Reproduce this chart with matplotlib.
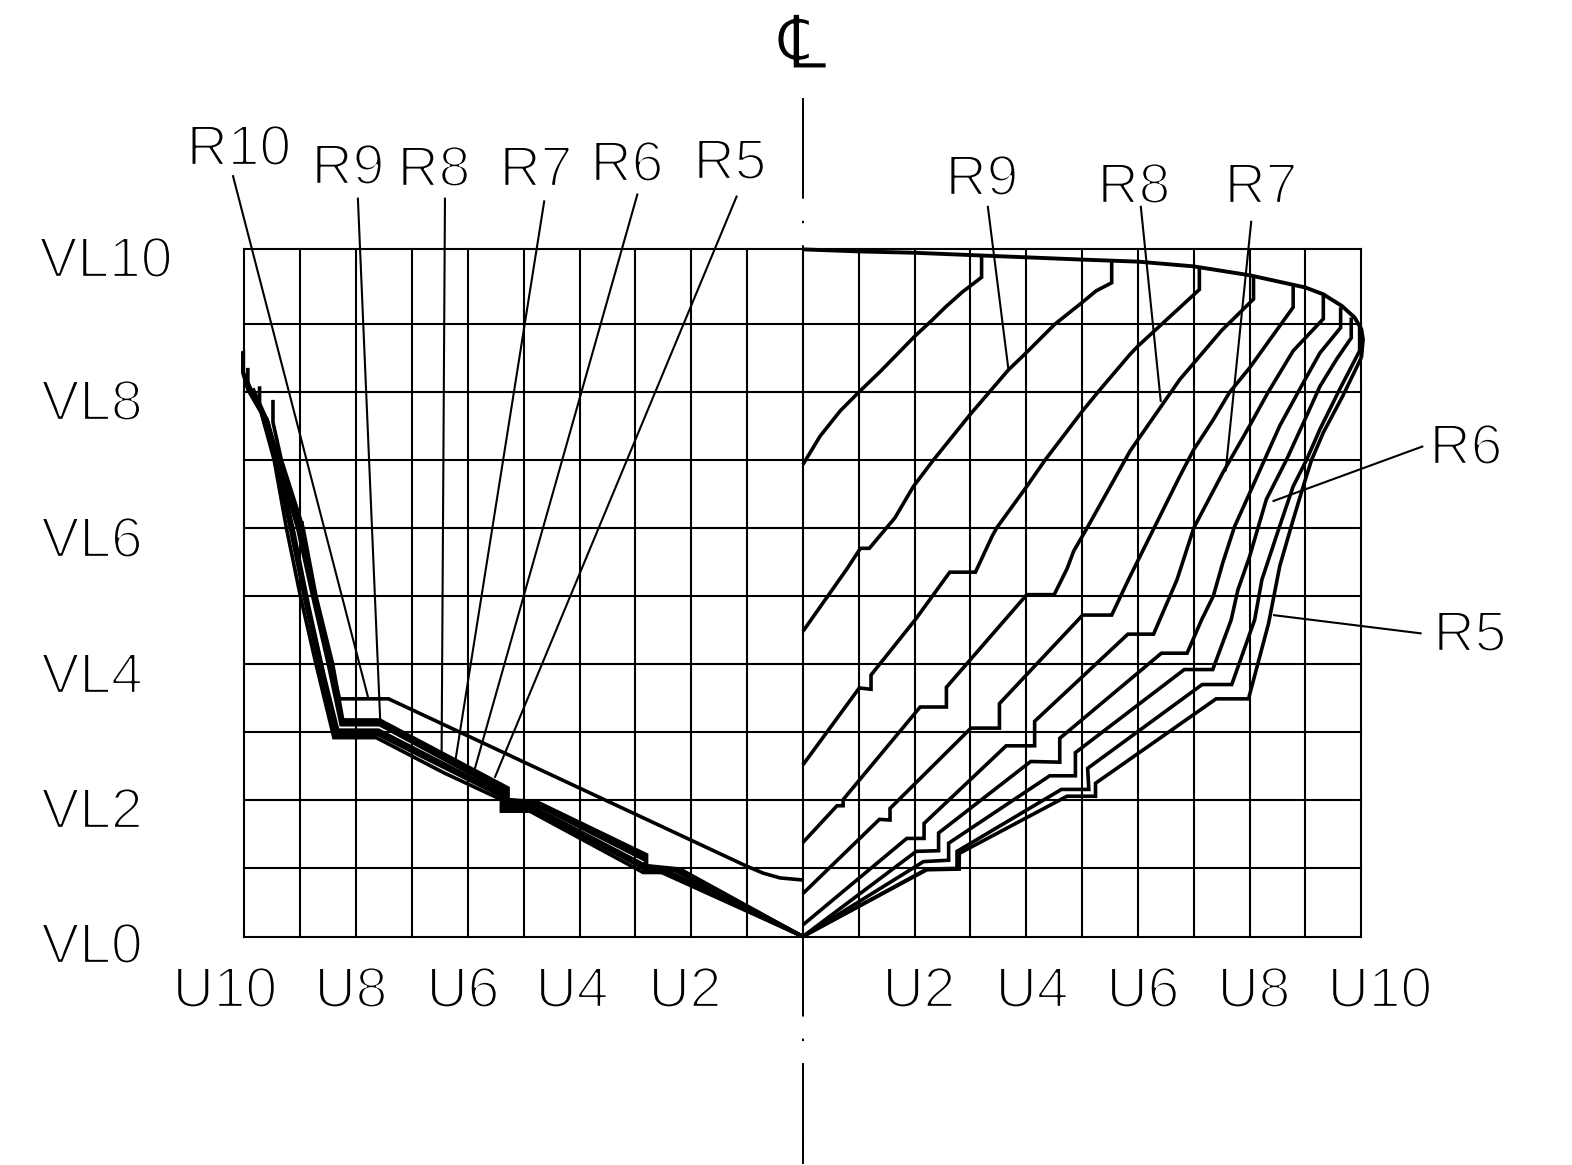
"""Body plan of a hull: stations on both sides of the centre line, with R labels."""

import matplotlib

matplotlib.use("Agg")
import matplotlib.patheffects as path_effects
import matplotlib.pyplot as plt

plt.rcParams["font.family"] = ["Liberation Sans", "DejaVu Sans"]
plt.rcParams["lines.scale_dashes"] = False

# waterlines and buttocks, in station units (the top waterline sits a bit above 10)
GRID_U = list(range(-10, 11))
GRID_V = [0, 1, 2, 3, 4, 5, 6, 7, 8, 9, 10.09]

SHEER_U = [0, 1.0, 2.0, 3.2, 5.0, 6.0, 7.0, 8.0, 9.0, 9.32, 9.65, 9.88, 10.0, 10.03, 10.0]
SHEER_V = [10.09, 10.06, 10.04, 10.0, 9.94, 9.91, 9.84, 9.71, 9.53, 9.43, 9.26, 9.09, 8.92, 8.77, 8.5]

# right side, stations from the centre outwards
R1_U = [0, 0.31, 0.67, 1.01, 1.39, 1.7, 2.01, 2.3, 2.55, 2.85, 3.2, 3.2]
R1_V = [6.93, 7.35, 7.72, 8.0, 8.3, 8.56, 8.82, 9.04, 9.24, 9.46, 9.68, 10.02]
R2_U = [0, 0.79, 1.03, 1.19, 1.65, 1.98, 2.34, 3.0, 3.68, 4.01, 4.51, 5.0, 5.25, 5.53, 5.53]
R2_V = [4.48, 5.4, 5.7, 5.7, 6.15, 6.61, 7.0, 7.67, 8.32, 8.58, 8.99, 9.31, 9.48, 9.6, 9.92]
R3_U = [0, 1.01, 1.22, 1.22, 2.01, 2.63, 3.09, 3.39, 3.47, 4.01, 4.34, 5.01, 5.3, 5.86, 6.0, 7.1, 7.1]
R3_V = [2.52, 3.65, 3.63, 3.84, 4.65, 5.35, 5.35, 5.88, 6.0, 6.61, 7.0, 7.72, 8.01, 8.55, 8.67, 9.5, 9.82]
R4_U = [0, 0.61, 0.72, 0.72, 2.1, 2.57, 2.57, 4.01, 4.5, 4.73, 4.85, 5.09, 5.86, 6.75, 7.5, 8.07, 8.07]
R4_V = [1.38, 1.92, 1.92, 2.01, 3.37, 3.37, 3.66, 5.02, 5.02, 5.4, 5.66, 6.0, 7.13, 8.18, 8.9, 9.36, 9.68]
R5_U = [0, 1.37, 1.56, 1.56, 3.01, 3.52, 3.52, 5.01, 5.53, 5.83, 6.75, 7.0, 7.35, 7.64, 8.0, 8.78, 8.78]
R5_V = [0.63, 1.72, 1.71, 1.88, 3.06, 3.06, 3.42, 4.72, 4.72, 5.24, 6.76, 7.15, 7.59, 7.99, 8.35, 9.24, 9.55]
R6_U = [0, 1.86, 2.17, 2.17, 3.64, 4.15, 4.15, 5.82, 6.28, 6.7, 7.0, 7.52, 8.0, 8.33, 8.78, 9.32, 9.32]
R6_V = [0.17, 1.44, 1.44, 1.66, 2.8, 2.8, 3.16, 4.44, 4.44, 5.24, 6.0, 6.81, 7.5, 7.99, 8.6, 9.07, 9.41]
R7_U = [0, 2.03, 2.43, 2.43, 4.08, 4.6, 4.6, 6.42, 6.88, 7.14, 7.35, 7.52, 7.73, 8.0, 8.54, 8.96, 9.26, 9.63, 9.63]
R7_V = [0, 1.25, 1.26, 1.52, 2.57, 2.56, 2.91, 4.16, 4.16, 4.65, 5.0, 5.49, 6.02, 6.51, 7.5, 8.13, 8.57, 8.94, 9.24]
R8_U = [0, 2.16, 2.61, 2.61, 4.42, 4.88, 4.88, 6.83, 7.34, 7.67, 7.79, 8.0, 8.3, 8.66, 8.99, 9.26, 9.56, 9.82, 9.82]
R8_V = [0, 1.1, 1.12, 1.37, 2.36, 2.36, 2.7, 3.92, 3.92, 4.65, 5.09, 5.58, 6.42, 7.0, 7.59, 8.08, 8.48, 8.79, 9.09]
R9_U = [0, 2.22, 2.76, 2.76, 4.63, 5.12, 5.1, 7.15, 7.68, 8.09, 8.22, 8.54, 8.78, 9.02, 9.26, 9.61, 9.97, 9.97]
R9_V = [0, 0.99, 1.0, 1.25, 2.16, 2.16, 2.47, 3.7, 3.7, 4.65, 5.24, 6.03, 6.61, 7.0, 7.45, 8.03, 8.6, 9.0]
R10_U = [0, 2.22, 2.8, 2.8, 4.73, 5.24, 5.24, 7.4, 7.98, 8.34, 8.44, 8.54, 8.78, 8.96, 9.11, 9.32, 9.67, 10.0]
R10_V = [0, 0.98, 0.99, 1.22, 2.06, 2.06, 2.25, 3.49, 3.49, 4.6, 5.02, 5.44, 6.12, 6.61, 7.0, 7.4, 7.94, 8.5]

# left side, the single upper section and then the tight bundle
L1_U = [-8.97, -8.97, -8.3, -7.42, -1.0, -0.71, -0.41, 0]
L1_V = [6.1, 5.85, 3.49, 3.49, 1.03, 0.93, 0.86, 0.83]
L2_U = [-9.49, -9.49, -9.34, -8.95, -8.72, -8.42, -8.24, -7.58, -5.28, -5.28, -4.77, -2.8, -2.8, -2.2, 0]
L2_V = [7.88, 7.55, 7.0, 6.0, 5.0, 4.0, 3.18, 3.18, 2.18, 2.01, 1.98, 1.2, 1.04, 0.99, 0]
L3_U = [-9.6, -9.38, -9.0, -8.75, -8.46, -8.26, -7.58, -5.3, -5.3, -4.8, -2.81, -2.81, -2.25, 0]
L3_V = [7.6, 7.0, 6.0, 5.0, 4.0, 3.14, 3.14, 2.14, 1.99, 1.96, 1.16, 1.02, 0.98, 0]
L4_U = [-9.73, -9.73, -9.42, -9.05, -8.78, -8.5, -8.27, -7.58, -5.31, -5.31, -4.82, -2.82, -2.82, -2.3, 0]
L4_V = [8.08, 7.8, 7.0, 6.0, 5.0, 4.0, 3.11, 3.11, 2.11, 1.97, 1.95, 1.12, 1.0, 0.97, 0]
L5_U = [-9.94, -9.94, -9.6, -9.42, -9.12, -8.85, -8.58, -8.33, -7.6, -5.34, -5.34, -4.85, -2.84, -2.84, -2.4, 0]
L5_V = [8.35, 8.05, 7.6, 7.0, 5.95, 4.85, 3.85, 3.03, 3.03, 2.08, 1.93, 1.91, 1.05, 0.97, 0.95, 0]
L6_U = [-9.85, -9.58, -9.44, -9.15, -8.88, -8.6, -8.35, -7.61, -5.36, -5.36, -4.86, -2.85, -2.85, -2.42, 0]
L6_V = [8.05, 7.55, 7.0, 6.0, 4.9, 3.9, 3.0, 3.0, 2.06, 1.9, 1.89, 1.02, 0.96, 0.94, 0]
L7_U = [-10.02, -10.02, -9.7, -9.45, -9.18, -8.92, -8.65, -8.37, -7.62, -5.37, -5.37, -4.87, -2.85, -2.85, -2.45, 0]
L7_V = [8.6, 8.28, 7.7, 7.0, 6.0, 4.95, 3.95, 2.97, 2.97, 2.05, 1.88, 1.87, 1.0, 0.95, 0.94, 0]
L8_U = [-10.03, -10.03, -9.94, -9.7, -9.47, -9.25, -9.0, -8.72, -8.4, -7.64, -6.42, -5.4, -5.4, -4.89, -2.86, -2.53, 0]
L8_V = [8.59, 8.28, 8.03, 7.69, 7.0, 6.0, 5.0, 4.0, 2.92, 2.92, 2.4, 2.01, 1.84, 1.84, 0.94, 0.94, 0]

STATIONS = [
    (R1_U, R1_V), (R2_U, R2_V), (R3_U, R3_V), (R4_U, R4_V), (R5_U, R5_V),
    (R6_U, R6_V), (R7_U, R7_V), (R8_U, R8_V), (R9_U, R9_V), (R10_U, R10_V),
    (L1_U, L1_V), (L2_U, L2_V), (L3_U, L3_V), (L4_U, L4_V), (L5_U, L5_V),
    (L6_U, L6_V), (L7_U, L7_V), (L8_U, L8_V),
]

# leader lines: label end then station end
LEADER_U = [
    (-10.21, -7.78), (-7.97, -7.57), (-6.41, -6.47), (-4.63, -6.22), (-2.96, -5.88), (-1.18, -5.52),
    (3.31, 3.68), (6.05, 6.41), (8.03, 7.57), (11.11, 8.41), (11.08, 8.42),
]
LEADER_V = [
    (11.18, 3.49), (10.85, 3.18), (10.85, 2.7), (10.81, 2.6), (10.91, 2.45), (10.88, 2.33),
    (10.73, 8.33), (10.73, 7.85), (10.51, 6.83), (7.2, 6.39), (4.45, 4.72),
]

WATERLINE_LABELS = ["VL10", "VL8", "VL6", "VL4", "VL2", "VL0"]
STATION_LABELS = ["U10", "U8", "U6", "U4", "U2", "U2", "U4", "U6", "U8", "U10"]
SECTION_LABELS = ["R10", "R9", "R8", "R7", "R6", "R5", "R9", "R8", "R7", "R6", "R5"]

# label centres in picture pixels
WATERLINE_XY = [(106, 262), (92, 405), (92, 542), (92, 678), (92, 813), (92, 948)]
STATION_XY = [(225, 992), (351, 992), (463, 992), (572, 992), (685, 992),
              (919, 992), (1032, 992), (1143, 992), (1254, 992), (1380, 992)]
SECTION_XY = [(239, 150), (348, 169), (434, 171), (536, 171), (627, 166), (730, 164),
              (982, 180), (1134, 188), (1261, 188), (1466, 449), (1470, 636)]

PX_W, PX_H = 1572, 1165
ORIGIN_X, ORIGIN_Y = 802.9, 936.5  # pixel of U0 / VL0
PER_U, PER_V = 55.84, 68.1
PX_TO_PT = 0.72


def to_data(x, y):
    return (x - ORIGIN_X) / PER_U, (ORIGIN_Y - y) / PER_V


fig = plt.figure(figsize=(PX_W / 100, PX_H / 100), dpi=100)
ax = fig.add_axes([0, 0, 1, 1])
ax.set_xlim(-ORIGIN_X / PER_U, (PX_W - ORIGIN_X) / PER_U)
ax.set_ylim((ORIGIN_Y - PX_H) / PER_V, ORIGIN_Y / PER_V)
ax.axis("off")

for u in GRID_U:
    ax.plot([u, u], [GRID_V[0], GRID_V[-1]], color="black", lw=1.5, solid_capstyle="projecting")
for v in GRID_V:
    ax.plot([GRID_U[0], GRID_U[-1]], [v, v], color="black", lw=1.5, solid_capstyle="projecting")

# centre line: long dash and dot, with the two end dashes run out a little longer
dash, gap, dot = 89.8 * PX_TO_PT, 22 * PX_TO_PT, 2.5 * PX_TO_PT
offset = (136.3 - 10.95) * PX_TO_PT
ax.plot([0, 0], [to_data(0, 98)[1], to_data(0, 1165)[1]], color="black", lw=1.4,
        linestyle=(offset, (dash, gap, dot, gap)), dash_capstyle="butt")
for top, bottom in [(98, 118), (1140, 1164)]:
    ax.plot([0, 0], [to_data(0, top)[1], to_data(0, bottom)[1]], color="black", lw=1.4,
            solid_capstyle="butt")

for us, vs in STATIONS:
    ax.plot(us, vs, color="black", lw=2.6, solid_joinstyle="miter", solid_capstyle="butt")
ax.plot(SHEER_U, SHEER_V, color="black", lw=2.8, solid_capstyle="butt")

for us, vs in zip(LEADER_U, LEADER_V):
    ax.plot(us, vs, color="black", lw=1.5, solid_capstyle="butt")

# the reference lettering is a thin stroke font, so shave the glyphs with a white edge
thin = [path_effects.Stroke(linewidth=1.7, foreground="white")]
label_groups = [
    (WATERLINE_LABELS, WATERLINE_XY),
    (STATION_LABELS, STATION_XY),
    (SECTION_LABELS, SECTION_XY),
]
for labels, places in label_groups:
    for label, (x, y) in zip(labels, places):
        u, v = to_data(x, y)
        ax.text(u, v, label, fontsize=41, ha="center", va="center", color="black",
                path_effects=thin)

# centre line symbol
u, v = to_data(803, 48)
ax.text(u, v, "\u2104", fontsize=54, ha="center", va="center", color="black",
        family="DejaVu Sans", path_effects=[path_effects.Stroke(linewidth=1.5, foreground="white")])

fig.savefig("out.png", dpi=100)
plt.close(fig)
